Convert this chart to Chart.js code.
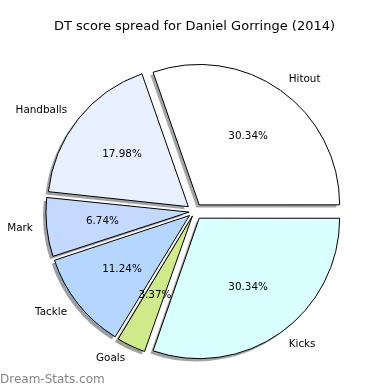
<!DOCTYPE html>
<html>
<head>
<meta charset="utf-8">
<script src="https://cdn.jsdelivr.net/npm/chart.js@4.4.1/dist/chart.umd.min.js"></script>
<style>
  html, body { margin: 0; padding: 0; background: #fff; }
  #wrap { width: 390px; height: 390px; }
</style>
</head>
<body>
<div id="wrap"><canvas id="myChart" width="390" height="390"></canvas></div>
<script>
// categories in the order they go round the pie (counter-clockwise from 3 o'clock)
const categories = ['Hitout', 'Handballs', 'Mark', 'Tackle', 'Goals', 'Kicks'];
const scores = [27, 16, 6, 10, 3, 27];
const sliceColors = ['#ffffff', '#e9f0ff', '#c5d9ff', '#b5d6ff', '#cfea8b', '#d9ffff'];

// Chart.js goes clockwise, so feed it reversed
const labels = categories.slice().reverse();
const values = scores.slice().reverse();
const colors = sliceColors.slice().reverse();
const total = values.reduce((a, b) => a + b, 0);

const EXPLODE = 8.6;   // px each wedge is pushed out
const RADIUS = 140;

// chart.js arc offset is scaled by (2 - sin(circ))/4, undo that so every wedge moves the same
function arcOffset(ctx) {
    const circ = Math.PI * 2 * values[ctx.dataIndex] / total;
    return 4 * EXPLODE / (2 - Math.sin(Math.min(Math.PI, circ)));
}

function wedgeGeom(el) {
    const p = el.getProps(['x', 'y', 'startAngle', 'endAngle', 'outerRadius'], true);
    const mid = (p.startAngle + p.endAngle) / 2;
    return {
        cx: p.x + Math.cos(mid) * EXPLODE,
        cy: p.y + Math.sin(mid) * EXPLODE,
        r: p.outerRadius, mid: mid, start: p.startAngle, end: p.endAngle
    };
}

function shade(hex) {
    const n = parseInt(hex.slice(1), 16);
    const r = Math.round(((n >> 16) & 255) * 0.3);
    const g = Math.round(((n >> 8) & 255) * 0.3);
    const b = Math.round((n & 255) * 0.3);
    return `rgba(${r},${g},${b},0.5)`;
}

const pieExtras = {
    id: 'pieExtras',
    beforeDatasetsDraw(chart) {
        const ctx = chart.ctx;
        const meta = chart.getDatasetMeta(0);
        ctx.save();
        meta.data.forEach((el, i) => {
            const g = wedgeGeom(el);
            const sx = g.cx - 3, sy = g.cy + 3;
            ctx.beginPath();
            ctx.moveTo(sx, sy);
            ctx.arc(sx, sy, g.r, g.start, g.end);
            ctx.closePath();
            ctx.fillStyle = shade(colors[i]);
            ctx.fill();
        });
        ctx.restore();
    },
    afterDatasetsDraw(chart) {
        const ctx = chart.ctx;
        const meta = chart.getDatasetMeta(0);
        ctx.save();
        ctx.font = '10.4px "DejaVu Sans"';
        ctx.fillStyle = '#000';
        ctx.textBaseline = 'middle';
        meta.data.forEach((el, i) => {
            const g = wedgeGeom(el);
            const c = Math.cos(g.mid), s = Math.sin(g.mid);
            ctx.textAlign = c > 0 ? 'left' : 'right';
            ctx.fillText(labels[i], g.cx + c * g.r * 1.1, g.cy + s * g.r * 1.1);
            ctx.textAlign = 'center';
            const pct = (100 * values[i] / total).toFixed(2) + '%';
            ctx.fillText(pct, g.cx + c * g.r * 0.6, g.cy + s * g.r * 0.6);
        });
        // watermark
        ctx.font = '12px "DejaVu Sans"';
        ctx.fillStyle = '#858585';
        ctx.textAlign = 'left';
        ctx.fillText('Dream-Stats.com', 0, 380);
        ctx.restore();
    }
};

const data = {
    labels: labels,
    datasets: [{
        data: values,
        backgroundColor: colors,
        borderColor: '#000',
        borderWidth: 1,
        offset: arcOffset,
        hoverOffset: 0,
    }],
};

const config = {
    type: 'pie',
    data: data,
    options: {
        responsive: false,
        animation: false,
        rotation: 90,
        radius: RADIUS,
        layout: { padding: { left: 0, right: 1, top: 2, bottom: 1.5 } },
        plugins: {
            legend: { display: false },
            tooltip: { enabled: false },
            title: {
                display: true,
                text: 'DT score spread for Daniel Gorringe (2014)',
                color: '#000',
                font: { family: 'DejaVu Sans', size: 13, weight: 'normal' },
                padding: { top: 17, bottom: 0 },
            },
        },
    },
    plugins: [pieExtras],
};

const ctx = document.getElementById('myChart').getContext('2d');
const myChart = new Chart(ctx, config);
</script>
</body>
</html>
